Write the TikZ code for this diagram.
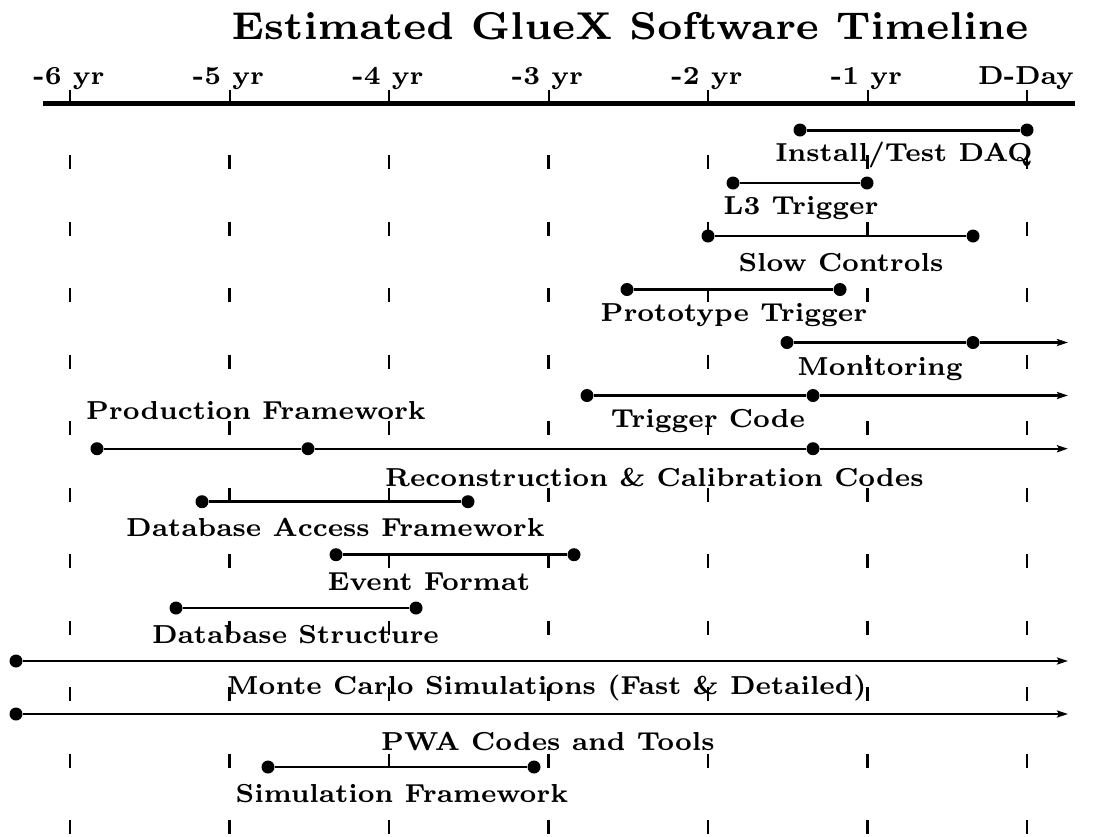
\documentclass[tikz,border=0pt]{standalone}
\usetikzlibrary{arrows.meta}
\font\labfont=cmbx7 at 26pt
\font\titlefont=cmbx7 at 38.8pt
\begin{document}
\begin{tikzpicture}[x=1pt,y=-1pt,
  dot/.style={circle,fill=black,inner sep=0pt,minimum size=13pt},
  bar/.style={line width=2.4pt},
  thickbar/.style={line width=3pt},
  arr/.style={-{Stealth[length=11pt,width=7pt,inset=2pt]}},
  lab/.style={anchor=base,inner sep=0pt,font=\labfont},
  gridtick/.style={line width=2.8pt},
  axtick/.style={line width=2pt}]
\useasboundingbox (0,0) rectangle (1099,836);

% title
\node[anchor=base,inner sep=0pt,font=\titlefont] (title) at (630,39) {Estimated GlueX Software Timeline};

% axis
\coordinate (axL) at (43,103);
\coordinate (axR) at (1075,103);
\draw[line width=5pt] (axL) -- (axR);
\foreach \i/\t in {0/-6 yr,1/-5 yr,2/-4 yr,3/-3 yr,4/-2 yr,5/-1 yr,6/D-Day}{
  \coordinate (yt\i) at ({70+159.5*\i},103);
  \coordinate (ytop\i) at ({70+159.5*\i},90);
  \draw[axtick] (yt\i) -- (ytop\i);
  \node[lab] (yl\i) at ({69+159.5*\i},84.5) {\t};
}

% grid ticks
\foreach \i in {0,...,6}{
  \foreach \j in {0,...,10}{
    \draw[gridtick] ({70+159.5*\i},{155+66.5*\j}) -- ++(0,14);
  }
}

% 1 Install/Test DAQ
\node[dot] (daqA) at (800,130) {};
\node[dot] (daqB) at (1027,130) {};
\draw[thickbar] (daqA) -- (daqB);
\node[lab] (daqL) at (904,161) {Install/Test DAQ};

% 2 L3 Trigger
\node[dot] (ltA) at (733,183) {};
\node[dot] (ltB) at (867,183) {};
\draw[bar] (ltA) -- (ltB);
\node[lab] (ltL) at (801,214.5) {L3 Trigger};

% 3 Slow Controls
\node[dot] (scA) at (708,236) {};
\node[dot] (scB) at (973,236) {};
\draw[bar] (scA) -- (scB);
\node[lab] (scL) at (841,271.5) {Slow Controls};

% 4 Prototype Trigger
\node[dot] (ptA) at (627,289.5) {};
\node[dot] (ptB) at (840,289.5) {};
\draw[bar] (ptA) -- (ptB);
\node[lab] (ptL) at (734,321.7) {Prototype Trigger};

% 5 Monitoring
\node[dot] (moA) at (787,342.5) {};
\node[dot] (moB) at (973,342.5) {};
\coordinate (moE) at (1068,342.5);
\draw[bar,arr] (moA) -- (moB) -- (moE);
\node[lab] (moL) at (880,375) {Monitoring};

% 6 Trigger Code
\node[dot] (tcA) at (587,395.5) {};
\node[dot] (tcB) at (813,395.5) {};
\coordinate (tcE) at (1068,395.5);
\draw[bar,arr] (tcA) -- (tcB) -- (tcE);
\node[lab] (tcL) at (708,427.5) {Trigger Code};

% 7 Production Framework / Reconstruction
\node[dot] (prA) at (97,448.7) {};
\node[dot] (prB) at (308,448.7) {};
\node[dot] (prC) at (813,448.7) {};
\coordinate (prE) at (1068,448.7);
\draw[bar,arr] (prA) -- (prB) -- (prC) -- (prE);
\node[lab] (prL) at (256,419) {Production Framework};
\node[lab] (rcL) at (654.5,486) {Reconstruction \& Calibration Codes};

% 8 Database Access Framework
\node[dot] (daA) at (202,501.7) {};
\node[dot] (daB) at (468,501.7) {};
\draw[thickbar] (daA) -- (daB);
\node[lab] (daL) at (335.5,536.7) {Database Access Framework};

% 9 Event Format
\node[dot] (efA) at (336,554.7) {};
\node[dot] (efB) at (574,554.7) {};
\draw[thickbar] (efA) -- (efB);
\node[lab] (efL) at (429,590) {Event Format};

% 10 Database Structure
\node[dot] (dsA) at (176,608) {};
\node[dot] (dsB) at (416,608) {};
\draw[bar] (dsA) -- (dsB);
\node[lab] (dsL) at (295.5,643) {Database Structure};

% 11 Monte Carlo
\node[dot] (mcA) at (16,661) {};
\coordinate (mcE) at (1068,661);
\draw[bar,arr] (mcA) -- (mcE);
\node[lab] (mcL) at (547,694) {Monte Carlo Simulations (Fast \& Detailed)};

% 12 PWA
\node[dot] (pwA) at (16,714) {};
\coordinate (pwE) at (1068,714);
\draw[bar,arr] (pwA) -- (pwE);
\node[lab] (pwL) at (548,750) {PWA Codes and Tools};

% 13 Simulation Framework
\node[dot] (sfA) at (268,767) {};
\node[dot] (sfB) at (534,767) {};
\draw[bar] (sfA) -- (sfB);
\node[lab] (sfL) at (402,802) {Simulation Framework};
\end{tikzpicture}
\end{document}
